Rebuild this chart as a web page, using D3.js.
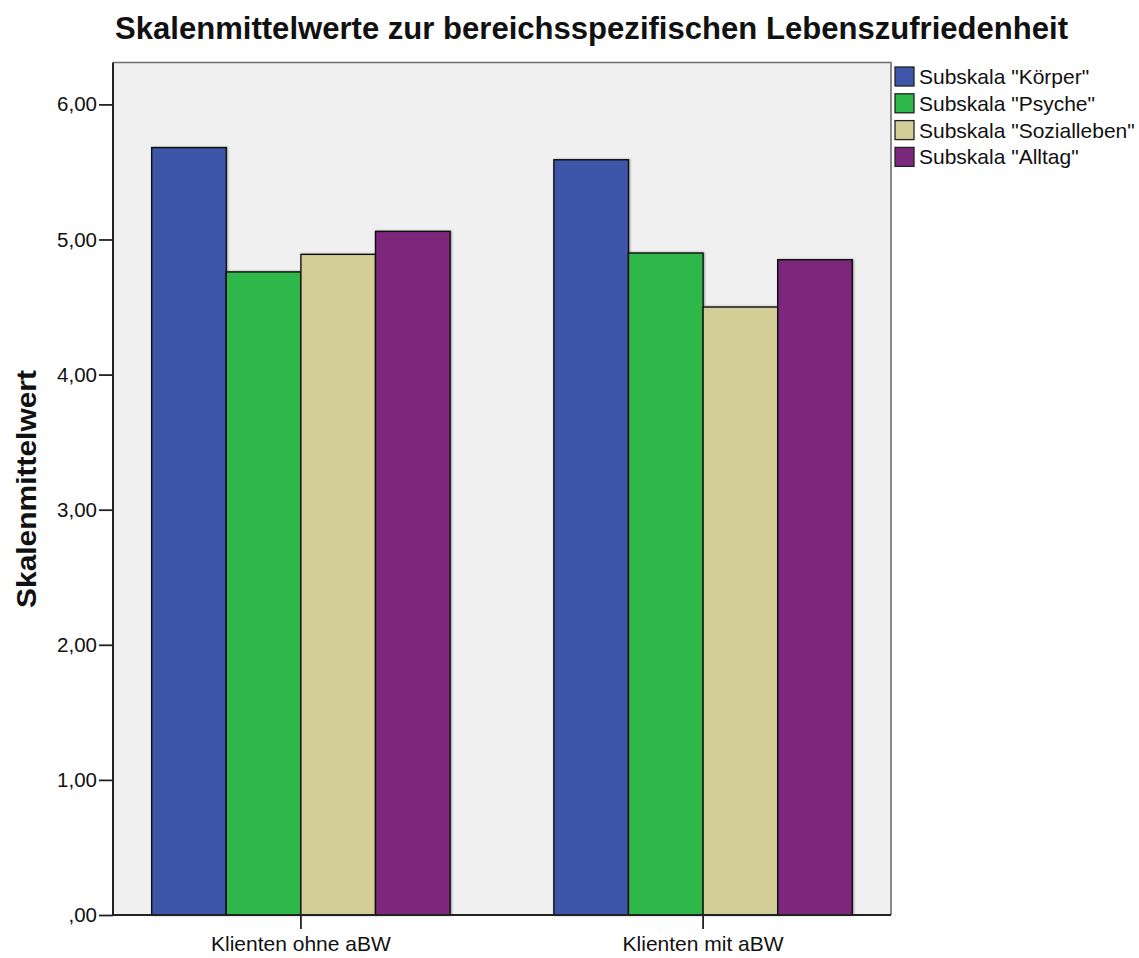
<!DOCTYPE html>
<html>
<head>
<meta charset="utf-8">
<script src="https://cdn.jsdelivr.net/npm/d3@7"></script>
<style>
  html, body { margin: 0; padding: 0; background: #ffffff; }
  svg { display: block; }
  text { font-family: "Liberation Sans", Arial, sans-serif; fill: #111; }
</style>
</head>
<body>
<svg id="chart" width="1139" height="958"></svg>
<script>
// Gruppen (x-Achse) und Subskalen (Legende)
const groups = ["Klienten ohne aBW", "Klienten mit aBW"];
const subscales = ["Subskala \"Körper\"", "Subskala \"Psyche\"", "Subskala \"Sozialleben\"", "Subskala \"Alltag\""];
const colors = ["#3E57AA", "#2EB84A", "#D3CE98", "#7C287C"];

// Skalenmittelwerte je Gruppe, in Reihenfolge der Subskalen
const ohneABW = [5.68, 4.76, 4.89, 5.06];
const mitABW  = [5.59, 4.90, 4.50, 4.85];
const values = [ohneABW, mitABW];

const yTicks = [0, 1, 2, 3, 4, 5, 6];
const yMax = 6.31;

const svg = d3.select("#chart");

const plot = { left: 113, right: 891, top: 62.5, bottom: 915 };

const x0 = d3.scaleBand()
  .domain(groups)
  .range([plot.left, plot.right])
  .paddingInner(0.258)
  .paddingOuter(0.0962);

const x1 = d3.scaleBand()
  .domain(subscales)
  .range([0, x0.bandwidth()]);

const y = d3.scaleLinear()
  .domain([0, yMax])
  .range([plot.bottom, plot.top]);

const color = d3.scaleOrdinal().domain(subscales).range(colors);

const fmt = v => (v === 0 ? ",00" : d3.format(".2f")(v).replace(".", ","));

// Hintergrund der Diagrammfläche
svg.append("rect")
  .attr("x", plot.left).attr("y", plot.top)
  .attr("width", plot.right - plot.left)
  .attr("height", plot.bottom - plot.top)
  .attr("fill", "#F0F0F0");

// leichter Schatten unter den Balken
const defs = svg.append("defs");
const f = defs.append("filter").attr("id", "soft").attr("x", "-5%").attr("y", "-5%").attr("width", "110%").attr("height", "110%");
f.append("feGaussianBlur").attr("in", "SourceAlpha").attr("stdDeviation", 1.2).attr("result", "b");
f.append("feOffset").attr("in", "b").attr("dx", 1).attr("dy", 0).attr("result", "o");
f.append("feComponentTransfer").attr("in", "o").attr("result", "s")
  .append("feFuncA").attr("type", "linear").attr("slope", 0.35);
const m = f.append("feMerge");
m.append("feMergeNode").attr("in", "s");
m.append("feMergeNode").attr("in", "SourceGraphic");

// Balken
const gGroups = svg.append("g")
  .selectAll("g")
  .data(groups)
  .join("g")
  .attr("transform", d => `translate(${x0(d)},0)`);

gGroups.selectAll("rect")
  .data((g, i) => subscales.map((s, j) => ({ s, v: values[i][j] })))
  .join("rect")
  .attr("x", d => x1(d.s))
  .attr("y", d => y(d.v))
  .attr("width", x1.bandwidth())
  .attr("height", d => y(0) - y(d.v))
  .attr("fill", d => color(d.s))
  .attr("stroke", "#111")
  .attr("stroke-width", 1.4)
  .attr("filter", "url(#soft)");

// Rahmen oben und rechts
svg.append("path")
  .attr("d", `M${plot.left},${plot.top}H${plot.right}V${plot.bottom}`)
  .attr("fill", "none")
  .attr("stroke", "#6e6e6e")
  .attr("stroke-width", 1.6);

// y-Achse
const yAxis = d3.axisLeft(y)
  .tickValues(yTicks)
  .tickFormat(fmt)
  .tickSize(14)
  .tickPadding(2);

const gy = svg.append("g")
  .attr("transform", `translate(${plot.left},0)`)
  .call(yAxis);
gy.select(".domain").remove();
gy.selectAll(".tick line").attr("stroke", "#222").attr("stroke-width", 1.8);
gy.selectAll(".tick text")
  .style("font-size", "20.5px")
  .style("font-family", "'Liberation Sans', Arial, sans-serif")
  .attr("fill", "#111");

// x-Achse
const xAxis = d3.axisBottom(x0)
  .tickSize(14)
  .tickPadding(7);

const gx = svg.append("g")
  .attr("transform", `translate(0,${plot.bottom})`)
  .call(xAxis);
gx.select(".domain").remove();
gx.selectAll(".tick line").attr("stroke", "#222").attr("stroke-width", 1.8);
gx.selectAll(".tick text")
  .style("font-size", "21px")
  .style("font-family", "'Liberation Sans', Arial, sans-serif")
  .attr("fill", "#111");

// Achsenlinien links und unten
svg.append("path")
  .attr("d", `M${plot.left},${plot.top}V${plot.bottom}H${plot.right}`)
  .attr("fill", "none")
  .attr("stroke", "#222")
  .attr("stroke-width", 2);

// Titel
svg.append("text")
  .attr("x", 115)
  .attr("y", 39)
  .attr("textLength", 953)
  .attr("lengthAdjust", "spacingAndGlyphs")
  .style("font-size", "32px")
  .style("font-weight", "bold")
  .text("Skalenmittelwerte zur bereichsspezifischen Lebenszufriedenheit");

// y-Achsentitel
svg.append("text")
  .attr("transform", `translate(36,489) rotate(-90)`)
  .attr("text-anchor", "middle")
  .attr("textLength", 238)
  .attr("lengthAdjust", "spacingAndGlyphs")
  .style("font-size", "28px")
  .style("font-weight", "bold")
  .text("Skalenmittelwert");

// Legende
const legend = svg.append("g")
  .attr("transform", "translate(895,67)")
  .selectAll("g")
  .data(subscales)
  .join("g")
  .attr("transform", (d, i) => `translate(0,${i * 26.8})`);

legend.append("rect")
  .attr("width", 19)
  .attr("height", 19)
  .attr("fill", d => color(d))
  .attr("stroke", "#222")
  .attr("stroke-width", 1.3);

legend.append("text")
  .attr("x", 24)
  .attr("y", 17)
  .style("font-size", "21px")
  .text(d => d);
</script>
</body>
</html>
